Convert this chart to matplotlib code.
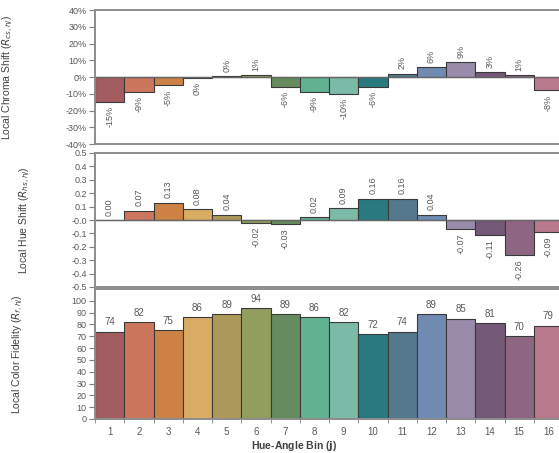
import matplotlib.pyplot as plt
import numpy as np

plt.rcParams['font.family'] = ['Liberation Sans', 'DejaVu Sans']

bins = np.arange(1, 17)
chroma = [-15, -9, -5, -0.3, 0.3, 1, -6, -9, -10, -6, 2, 6, 9, 3, 1, -8]
hue = [0.001, 0.07, 0.13, 0.08, 0.04, -0.02, -0.03, 0.02, 0.09, 0.16, 0.16, 0.04,
       -0.07, -0.11, -0.26, -0.09]
fidelity = [74, 82, 75, 86, 89, 94, 89, 86, 82, 72, 74, 89, 85, 81, 70, 79]
colors = ['#A35C60', '#CC765E', '#CC8145', '#D8AC62', '#AC9959', '#919E5D',
          '#668B5E', '#61B290', '#7BBAA6', '#297A7E', '#55788D', '#708AB2',
          '#988CAA', '#735877', '#8F6682', '#BA7A8E']

W, H = 559, 453
L, R = 95, 563
fig = plt.figure(figsize=(W / 100, H / 100), dpi=100)

def box(top, bot):
    return [L / W, 1 - bot / H, (R - L) / W, (bot - top) / H]

ax1 = fig.add_axes(box(10, 144))
ax2 = fig.add_axes(box(153, 287))
ax3 = fig.add_axes(box(289, 419))

txt = '#595959'
edge = '#3a3a3a'

for ax in (ax1, ax2, ax3):
    ax.bar(bins, chroma if ax is ax1 else (hue if ax is ax2 else fidelity),
           width=1.0, color=colors, edgecolor=edge, linewidth=0.8)
    ax.set_xlim(0.5, 16.5)
    for s in ax.spines.values():
        s.set_color('#8c8c8c')
        s.set_linewidth(1.4)
    ax.tick_params(axis='y', direction='out', length=4, width=0.8,
                   color='#7f7f7f', labelsize=6.5, labelcolor=txt, pad=2)

# top panel: chroma shift
ax1.set_ylim(-40, 40)
ax1.set_yticks(np.arange(-40, 41, 10))
ax1.set_yticklabels([f'{v}%' for v in range(-40, 41, 10)])
ax1.axhline(0, color='#666666', lw=1)
ax1.set_xticks([])
for b, v in zip(bins, chroma):
    ax1.annotate(f'{abs(v):.0f}%' if abs(v) < 0.5 else f'{v:.0f}%', (b, v),
                 xytext=(0, 3 if v >= 0 else -3), textcoords='offset points',
                 rotation=90, ha='center', va='bottom' if v >= 0 else 'top',
                 fontsize=6.5, color=txt)
ax1.set_ylabel('Local Chroma Shift ($R_{cs,hj}$)', fontsize=7.5, color='#404040')
ax1.yaxis.set_label_coords(-80 / (R - L), 0.5)

# middle panel: hue shift
ax2.set_ylim(-0.5, 0.5)
ax2.set_yticks(np.arange(-0.5, 0.51, 0.1))
ax2.set_yticklabels([f'{v:.1f}' for v in np.arange(-0.5, 0.51, 0.1)])
ax2.axhline(0, color='#666666', lw=1)
ax2.set_xticks([])
for b, v in zip(bins, hue):
    ax2.annotate(f'{v:.2f}', (b, v),
                 xytext=(0, 3 if v >= 0 else -3), textcoords='offset points',
                 rotation=90, ha='center', va='bottom' if v >= 0 else 'top',
                 fontsize=6.5, color=txt)
ax2.set_ylabel('Local Hue Shift ($R_{hs,hj}$)', fontsize=7.5, color='#404040')
ax2.yaxis.set_label_coords(-63 / (R - L), 0.5)

# bottom panel: colour fidelity
ax3.set_ylim(0, 110)
ax3.set_yticks(np.arange(0, 101, 10))
for b, v in zip(bins, fidelity):
    ax3.annotate(f'{v}', (b, v), xytext=(0, 3), textcoords='offset points',
                 ha='center', va='bottom', fontsize=7, color=txt)
ax3.set_xticks(bins)
ax3.set_xticklabels([str(b) for b in bins])
ax3.set_xticks(np.arange(0.5, 17, 1), minor=True)
ax3.tick_params(axis='x', which='major', length=0, labelsize=7, labelcolor=txt, pad=6)
ax3.tick_params(axis='x', which='minor', length=3, color='#7f7f7f', direction='out')
ax3.set_ylabel('Local Color Fidelity ($R_{f,hj}$)', fontsize=7.5, color='#404040')
ax3.yaxis.set_label_coords(-70 / (R - L), 0.5)
ax3.set_xlabel('Hue-Angle Bin ($\\mathbf{j}$)', fontsize=7.5, color='#404040',
               fontweight='bold')
ax3.xaxis.set_label_coords((294 - L) / (R - L), -0.155)

fig.savefig('out.png', dpi=100)
